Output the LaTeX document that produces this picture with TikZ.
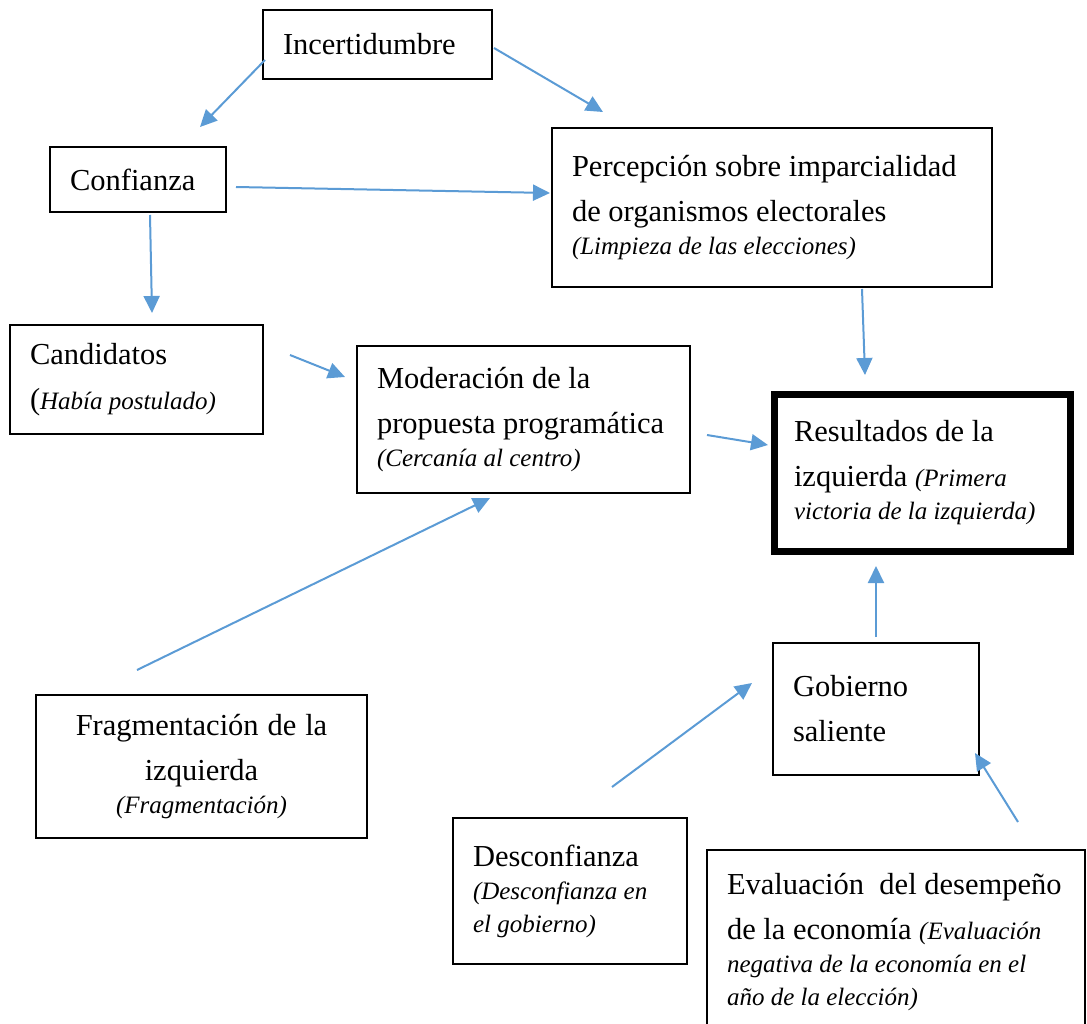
\documentclass[tikz,border=0pt]{standalone}
\usepackage{fontspec}
\setmainfont{Liberation Serif}
\usetikzlibrary{arrows.meta}
\setlength{\parindent}{0pt}
\setlength{\parskip}{0pt}
\definecolor{linkblue}{RGB}{91,155,213}
\newcommand{\noteline}[1]{{\fontsize{25}{33}\selectfont\itshape\spaceskip=0pt\xspaceskip=0pt #1\par}}
\newcommand{\notetxt}[1]{{\fontsize{25}{33}\selectfont\itshape\spaceskip=0pt\xspaceskip=0pt #1}}

\begin{document}
\begin{tikzpicture}[x=1pt,y=-1pt,
  box/.style={draw,line width=1.5pt,inner xsep=20pt,inner ysep=0pt,align=left,
    font=\fontsize{30.5}{45}\selectfont,execute at begin node={\spaceskip=0pt\xspaceskip=0pt}},
  link/.style={draw=linkblue,line width=2pt,-{Triangle[length=17pt,width=16pt]}}]
  \useasboundingbox (0,0) rectangle (1087,1024);
  \clip (0,0) rectangle (1087,1024);

  \node[box,minimum width=229pt,minimum height=69pt,text width=189pt] (incert) at (377.5,44.5) {Incertidumbre};
  \node[box,minimum width=176pt,minimum height=65pt,text width=136pt] (conf) at (138,179.5) {Confianza};
  \node[box,minimum width=440pt,minimum height=159pt,text width=400pt] (percep) at (772,207.5)
    {Percepción sobre imparcialidad\par de organismos electorales\par \noteline{(Limpieza de las elecciones)}};
  \node[box,minimum width=253pt,minimum height=109pt,text width=213pt] (cand) at (136.5,379.5)
    {Candidatos\par (\notetxt{Había postulado)}\par};
  \node[box,minimum width=333pt,minimum height=147pt,text width=293pt] (moder) at (523.5,419.5)
    {Moderación de la\par \mbox{propuesta programática}\par \noteline{(Cercanía al centro)}};
  \node[box,line width=7pt,minimum width=296pt,minimum height=157pt,text width=256pt] (result) at (922,472.5)
    {Resultados de la\par izquierda \notetxt{(Primera}\par \noteline{victoria de la izquierda)}};
  \node[box,align=center,minimum width=331pt,minimum height=143pt,text width=291pt] (frag) at (201.5,766.5)
    {Fragmentación de la\par izquierda\par \noteline{(Fragmentación)}};
  \node[box,minimum width=206pt,minimum height=132pt,text width=166pt] (gob) at (876,709)
    {Gobierno\par saliente\par};
  \node[box,minimum width=234pt,minimum height=146pt,text width=194pt] (desconf) at (570,891)
    {Desconfianza\par \noteline{(Desconfianza en}\noteline{el gobierno)}};
  \node[box,minimum width=378pt,minimum height=185pt,text width=338pt] (evalu) at (896,942.5)
    {\mbox{Evaluación\ \ del desempeño}\par \mbox{de la economía \notetxt{(Evaluación}}\par
     \noteline{negativa de la economía en el}\noteline{año de la elección)}};

  % free arrow ends
  \coordinate (incert-a) at (265,60);   \coordinate (conf-in) at (200,127);
  \coordinate (incert-b) at (494,48);   \coordinate (percep-in) at (603,112);
  \coordinate (conf-a) at (236,187);    \coordinate (percep-w) at (550,193);
  \coordinate (conf-b) at (150,215);    \coordinate (cand-in) at (152,313);
  \coordinate (cand-out) at (290,355);  \coordinate (moder-in) at (345,377);
  \coordinate (percep-out) at (862,289);\coordinate (result-n) at (865,375);
  \coordinate (moder-out) at (707,435); \coordinate (result-w) at (768,445);
  \coordinate (frag-out) at (137,670);  \coordinate (moder-s) at (490,498);
  \coordinate (gob-out) at (876,637);   \coordinate (result-s) at (876,566);
  \coordinate (desconf-out) at (612,787); \coordinate (gob-w) at (752,683);
  \coordinate (evalu-out) at (1018,822);  \coordinate (gob-se) at (975,753);

  \draw[link] (incert-a) -- (conf-in);
  \draw[link] (incert-b) -- (percep-in);
  \draw[link] (conf-a) -- (percep-w);
  \draw[link] (conf-b) -- (cand-in);
  \draw[link] (cand-out) -- (moder-in);
  \draw[link] (percep-out) -- (result-n);
  \draw[link] (moder-out) -- (result-w);
  \draw[link] (frag-out) -- (moder-s);
  \draw[link] (gob-out) -- (result-s);
  \draw[link] (desconf-out) -- (gob-w);
  \draw[link] (evalu-out) -- (gob-se);
\end{tikzpicture}
\end{document}
